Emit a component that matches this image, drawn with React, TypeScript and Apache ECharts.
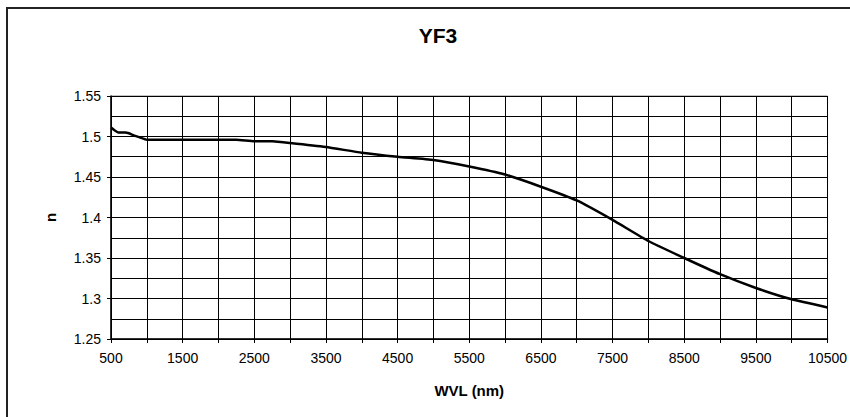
import React, { useEffect, useRef } from "react";
import * as echarts from "echarts";

const title = "YF3";
const xName = "WVL (nm)";
const yName = "n";
const wavelengths = [500, 600, 700, 750, 800, 900, 1000, 1500, 2000, 2250, 2500, 2750, 3000, 3500, 4000, 4500, 5000, 5500, 6000, 6500, 7000, 7500, 8000, 8500, 9000, 9500, 10000, 10500];
const indices = [1.511, 1.505, 1.505, 1.504, 1.502, 1.499, 1.496, 1.496, 1.496, 1.496, 1.494, 1.494, 1.492, 1.487, 1.480, 1.475, 1.471, 1.463, 1.453, 1.438, 1.421, 1.397, 1.371, 1.350, 1.330, 1.313, 1.299, 1.289];

export default function App() {
  const ref = useRef<HTMLDivElement>(null);
  useEffect(() => {
    document.body.style.margin = "0";
    const chart = echarts.init(ref.current!, null, { renderer: "svg" });
    const font = "'Liberation Sans', Arial, sans-serif";
    chart.setOption({
      animation: false,
      backgroundColor: "#fff",
      textStyle: { fontFamily: font },
      title: {
        text: title,
        left: 433,
        top: 20,
        textAlign: "center",
        textStyle: { fontFamily: font, fontSize: 21, fontWeight: "bold", color: "#000" },
      },
      graphic: [
        {
          type: "rect",
          shape: { x: 7, y: 8, width: 860, height: 430 },
          style: { fill: "none", stroke: "#222", lineWidth: 2 },
          silent: true,
        },
      ],
      grid: {
        left: 111,
        right: 21,
        top: 96,
        bottom: 78,
        show: true,
        borderColor: "#888",
        borderWidth: 1,
        containLabel: false,
      },
      xAxis: {
        type: "value",
        min: 500,
        max: 10500,
        interval: 500,
        name: xName,
        nameLocation: "middle",
        nameGap: 44,
        nameTextStyle: { fontFamily: font, fontSize: 15, fontWeight: "bold", color: "#000" },
        axisLine: { show: true, lineStyle: { color: "#000", width: 1.5 } },
        axisTick: { show: true, length: 4, lineStyle: { color: "#000" } },
        axisLabel: {
          fontFamily: font,
          fontSize: 14,
          color: "#000",
          margin: 12,
          formatter: (v: number) => ((v - 500) % 1000 === 0 ? String(v) : ""),
        },
        splitLine: { show: true, lineStyle: { color: "#000", width: 1 } },
      },
      yAxis: {
        type: "value",
        min: 1.25,
        max: 1.55,
        interval: 0.05,
        name: yName,
        nameLocation: "middle",
        nameGap: 53,
        nameRotate: 90,
        nameTextStyle: { fontFamily: font, fontSize: 15, fontWeight: "bold", color: "#000" },
        axisLine: { show: true, lineStyle: { color: "#000", width: 1.5 } },
        axisTick: { show: true, length: 4, lineStyle: { color: "#000" } },
        axisLabel: {
          fontFamily: font,
          fontSize: 14,
          color: "#000",
          margin: 10,
          formatter: (v: number) => String(+v.toFixed(3)),
        },
        splitLine: { show: true, lineStyle: { color: "#000", width: 1 } },
        minorTick: { show: false, splitNumber: 2 },
        minorSplitLine: { show: true, lineStyle: { color: "#000", width: 1 } },
      },
      series: [
        {
          type: "line",
          data: wavelengths.map((w, i) => [w, indices[i]]),
          showSymbol: false,
          symbol: "none",
          smooth: 0.15,
          lineStyle: { color: "#000", width: 2.5 },
        },
      ],
    });
    return () => chart.dispose();
  }, []);
  return <div ref={ref} style={{ position: "absolute", left: 0, top: 0, width: 850, height: 417 }} />;
}
